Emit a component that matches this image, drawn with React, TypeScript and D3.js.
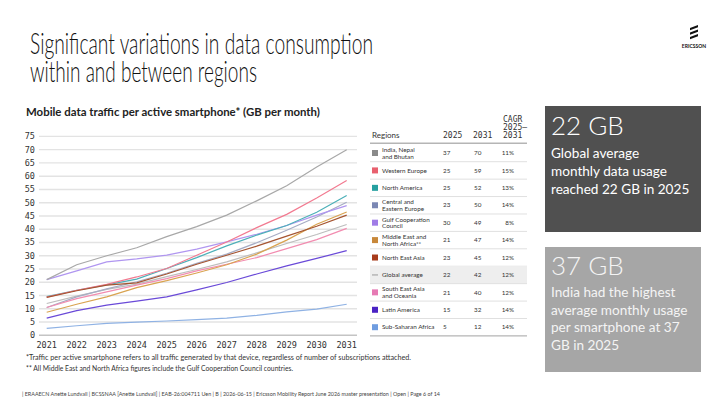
import React from "react";
import * as d3 from "d3";

// chart data
const years = [2021, 2022, 2023, 2024, 2025, 2026, 2027, 2028, 2029, 2030, 2031];
const yTicks = [0, 5, 10, 15, 20, 25, 30, 35, 40, 45, 50, 55, 60, 65, 70, 75];

const india = [21, 26.6, 30, 33, 37.2, 41, 45.3, 50.7, 56.4, 63.5, 70];
const westernEurope = [14.4, 17, 19.2, 22, 25.2, 30.2, 35.2, 40.6, 45.6, 51.8, 58.4];
const northAmerica = [14.6, 17, 19, 21.2, 25.2, 29.3, 33.7, 37.8, 41.4, 46.4, 52.7];
const centralEasternEurope = [10.5, 14.5, 17.5, 20.2, 23.4, 27.1, 30.6, 34.9, 39.6, 44.6, 50.2];
const gulf = [21, 24.3, 27.7, 28.8, 30.2, 32.5, 35.2, 38.1, 41.4, 45.3, 48.9];
const mena = [8.7, 11.7, 14.5, 18, 20.6, 23.5, 26.6, 30.6, 35.9, 41.9, 46.5];
const northEastAsia = [14.3, 16.8, 18.9, 19.8, 23.1, 26.8, 30.2, 33.6, 37.4, 41.1, 45.3];
const globalAverage = [12, 14.8, 17.3, 19.3, 22.1, 24.8, 27.7, 31.1, 34.6, 38, 41.8];
const southEastAsia = [10.5, 13.8, 16.4, 18.9, 21.4, 24.3, 26.8, 29.3, 32.7, 36.1, 40.3];
const latinAmerica = [6.5, 9.3, 11.4, 12.9, 14.5, 17.1, 19.9, 23.1, 26.2, 29, 31.9];
const subSaharanAfrica = [2.6, 3.6, 4.5, 5, 5.4, 5.9, 6.5, 7.5, 8.8, 9.9, 11.7];

const regionNames = [
  ["India, Nepal", "and Bhutan"],
  ["Western Europe"],
  ["North America"],
  ["Central and", "Eastern Europe"],
  ["Gulf Cooperation", "Council"],
  ["Middle East and", "North Africa**"],
  ["North East Asia"],
  ["Global average"],
  ["South East Asia", "and Oceania"],
  ["Latin America"],
  ["Sub-Saharan Africa"],
];
const values2025 = ["37", "25", "25", "23", "30", "21", "23", "22", "21", "15", "5"];
const values2031 = ["70", "59", "52", "50", "49", "47", "45", "42", "40", "32", "12"];
const cagr = ["11%", "15%", "13%", "14%", "8%", "14%", "12%", "12%", "12%", "14%", "14%"];
const swatchColors = ["#8a8a8a", "#e8606e", "#26a0a0", "#7b88b4", "#a07ce6", "#c8883a", "#a83c1c", "#9a9a9a", "#e67ab4", "#4a22c4", "#6f9de0"];
const lineColors = ["#a8a8a8", "#f27a90", "#4cb0b8", "#a6acc4", "#b096f0", "#d9a350", "#a55430", "#bdbdbd", "#f28cb0", "#6a4ad8", "#8fb2e4"];

const series = [india, westernEurope, northAmerica, centralEasternEurope, gulf, mena, northEastAsia, globalAverage, southEastAsia, latinAmerica, subSaharanAfrica];

const sans = "Lato, 'Open Sans', sans-serif";
const mono = "'DejaVu Sans Mono', monospace";

export default function App() {
  const x = d3.scaleLinear().domain([2021, 2031]).range([46.7, 346.7]);
  const y = d3.scaleLinear().domain([0, 75]).range([335.3, 136.4]);

  const line = d3
    .line<number>()
    .x((d, i) => x(years[i]))
    .y((d) => y(d));

  const rowY = d3.scaleLinear().domain([0, 10]).range([153, 327.2]);
  const rowStep = rowY(1) - rowY(0);

  // draw order: light ones first, so the darker lines sit on top
  const drawOrder = [10, 7, 3, 8, 5, 4, 2, 1, 6, 9, 0];

  return (
    <svg width={728} height={405} style={{ position: "absolute", left: 0, top: 0, background: "#fff" }}>
      {/* slide title */}
      <text x={30} y={54} fontFamily={sans} fontWeight={300} fontSize={29.5} fill="#111" textLength={343} lengthAdjust="spacingAndGlyphs">
        Significant variations in data consumption
      </text>
      <text x={30} y={82} fontFamily={sans} fontWeight={300} fontSize={29.5} fill="#111" textLength={227} lengthAdjust="spacingAndGlyphs">
        within and between regions
      </text>

      {/* logo */}
      <g fill="#111">
        {[0, 1, 2].map((i) => (
          <polygon key={i} points={`${690},${28 + i * 4.5} ${698},${25 + i * 4.5} ${698},${27.2 + i * 4.5} ${690},${30.2 + i * 4.5}`} />
        ))}
        <text x={694} y={47.5} fontFamily={sans} fontWeight={700} fontSize={5} textAnchor="middle">
          ERICSSON
        </text>
      </g>

      {/* chart title */}
      <text x={26} y={116} fontFamily={sans} fontWeight={700} fontSize={11.2} fill="#222" textLength={294} lengthAdjust="spacingAndGlyphs">
        Mobile data traffic per active smartphone* (GB per month)
      </text>

      {/* gridlines and y axis */}
      {yTicks.map((t) => (
        <g key={t}>
          <line x1={39} x2={357} y1={y(t)} y2={y(t)} stroke={t === 0 ? "#c4c4c4" : "#e3e3e3"} strokeWidth={1.4} />
          <text x={35} y={y(t) + 3} textAnchor="end" fontFamily={mono} fontSize={8.5} fill="#333">
            {t}
          </text>
        </g>
      ))}
      {years.map((yr) => (
        <text key={yr} x={x(yr)} y={348} textAnchor="middle" fontFamily={mono} fontSize={8.5} fill="#333">
          {yr}
        </text>
      ))}

      {/* lines */}
      {drawOrder.map((i) => (
        <path key={i} d={line(series[i]) || ""} fill="none" stroke={lineColors[i]} strokeWidth={1.2} />
      ))}

      {/* table */}
      <g fill="#333">
        <text x={372} y={137.5} fontFamily={sans} fontSize={8}>Regions</text>
        <text x={443} y={137.5} fontFamily={mono} fontSize={8}>2025</text>
        <text x={473} y={137.5} fontFamily={mono} fontSize={8}>2031</text>
        <text x={503} y={121.5} fontFamily={mono} fontSize={8}>CAGR</text>
        <text x={503} y={129.7} fontFamily={mono} fontSize={8}>2025–</text>
        <text x={503} y={137.5} fontFamily={mono} fontSize={8}>2031</text>
      </g>
      <line x1={370} x2={527} y1={143.3} y2={143.3} stroke="#b5b5b5" strokeWidth={1.4} />
      {regionNames.map((name, i) => {
        const cy = rowY(i);
        return (
          <g key={i}>
            {i === 7 && <rect x={370} y={cy - rowStep / 2} width={157} height={rowStep} fill="#eeeeee" />}
            <line x1={370} x2={527} y1={cy + rowStep / 2} y2={cy + rowStep / 2} stroke={i === 10 ? "#b5b5b5" : "#e0e0e0"} strokeWidth={i === 10 ? 1.4 : 1} />
            {i === 7 ? (
              <line x1={372} x2={378} y1={cy} y2={cy} stroke={swatchColors[i]} strokeWidth={1} />
            ) : (
              <rect x={372} y={cy - 3} width={6} height={6} fill={swatchColors[i]} />
            )}
            {name.map((n, j) => (
              <text key={j} x={382} y={cy + 2.2 + (j - (name.length - 1) / 2) * 6.6} fontFamily={sans} fontSize={6.3} fill="#333">
                {n}
              </text>
            ))}
            <text x={443} y={cy + 2.2} fontFamily={sans} fontSize={6.3} fill="#333">{values2025[i]}</text>
            <text x={474} y={cy + 2.2} fontFamily={sans} fontSize={6.3} fill="#333">{values2031[i]}</text>
            <text x={514} y={cy + 2.2} textAnchor="end" fontFamily={sans} fontSize={6.3} fill="#333">{cagr[i]}</text>
          </g>
        );
      })}

      {/* key figure boxes */}
      <rect x={545} y={106} width={156} height={126} fill="#505050" />
      <text x={551} y={135} fontFamily={sans} fontWeight={300} fontSize={26} fill="#fff">22 GB</text>
      {["Global average", "monthly data usage", "reached 22 GB in 2025"].map((t, i) => (
        <text key={t} x={551} y={158 + i * 17.8} fontFamily={sans} fontSize={13.6} fill="#fff">{t}</text>
      ))}
      <rect x={545} y={247} width={156} height={125} fill="#a6a6a6" />
      <text x={551} y={275} fontFamily={sans} fontWeight={300} fontSize={26} fill="#f4f4f4">37 GB</text>
      {["India had the highest", "average monthly usage", "per smartphone at 37", "GB in 2025"].map((t, i) => (
        <text key={t} x={551} y={297 + i * 17.7} fontFamily={sans} fontSize={13.6} fill="#f4f4f4">{t}</text>
      ))}

      {/* footnotes */}
      <text x={26} y={360} fontFamily={sans} fontSize={6.6} fill="#333" textLength={385} lengthAdjust="spacingAndGlyphs">
        *Traffic per active smartphone refers to all traffic generated by that device, regardless of number of subscriptions attached.
      </text>
      <text x={26} y={370.5} fontFamily={sans} fontSize={6.6} fill="#333" textLength={267} lengthAdjust="spacingAndGlyphs">
        ** All Middle East and North Africa figures include the Gulf Cooperation Council countries.
      </text>
      <text x={22} y={396} fontFamily={sans} fontSize={5.6} fill="#444" textLength={418} lengthAdjust="spacingAndGlyphs">
        | ERAAECN Anette Lundvall | BCSSNAA [Anette Lundvall] | EAB-26:004711 Uen | B | 2026-06-15 | Ericsson Mobility Report June 2026 master presentation | Open | Page 6 of 14
      </text>
    </svg>
  );
}
